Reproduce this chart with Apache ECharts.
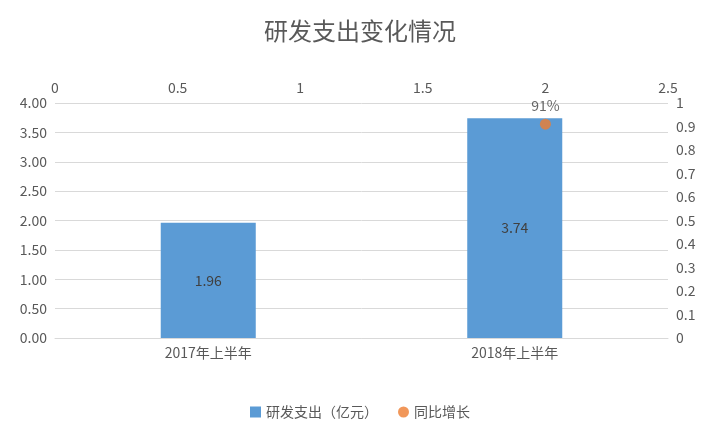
<!DOCTYPE html>
<html>
<head>
<meta charset="utf-8">
<script src="https://cdn.jsdelivr.net/npm/echarts@6/dist/echarts.min.js"></script>
<style>html,body{margin:0;padding:0;background:#fff}#chart{width:720px;height:432px}</style>
</head>
<body>
<div id="chart"></div>
<script>
var categories = ['2017年上半年', '2018年上半年'];
var spending = [1.96, 3.74];
var growthX = [2];
var growthY = [0.91];

var chart = echarts.init(document.getElementById('chart'));
var font = '"Noto Sans CJK SC", sans-serif';
var axisText = { color: '#595959', fontSize: 14, fontFamily: font };

chart.setOption({
    textStyle: { fontFamily: font },
    title: {
        text: '研发支出变化情况',
        left: 'center',
        top: 14,
        textStyle: { color: '#595959', fontSize: 24, fontWeight: 'normal', fontFamily: font }
    },
    legend: {
        bottom: 8,
        itemWidth: 11,
        itemHeight: 11,
        itemGap: 20,
        textStyle: { color: '#595959', fontSize: 14 },
        data: [
            { name: '研发支出（亿元）', icon: 'rect' },
            { name: '同比增长', icon: 'circle' }
        ]
    },
    grid: { left: 55, right: 52, top: 103, bottom: 94 },
    xAxis: [
        {
            type: 'category',
            data: categories,
            position: 'bottom',
            axisLine: { lineStyle: { color: '#d9d9d9' } },
            axisTick: { show: false },
            axisLabel: axisText
        },
        {
            type: 'value',
            position: 'top',
            min: 0, max: 2.5, interval: 0.5,
            axisLine: { show: false },
            axisTick: { show: false },
            splitLine: { show: false },
            axisLabel: axisText
        }
    ],
    yAxis: [
        {
            type: 'value',
            min: 0, max: 4, interval: 0.5,
            axisLine: { show: false },
            axisTick: { show: false },
            splitLine: { lineStyle: { color: '#d9d9d9' } },
            axisLabel: Object.assign({ formatter: function (v) { return v.toFixed(2); } }, axisText)
        },
        {
            type: 'value',
            min: 0, max: 1, interval: 0.1,
            position: 'right',
            axisLine: { show: false },
            axisTick: { show: false },
            splitLine: { show: false },
            axisLabel: Object.assign({ formatter: function (v) { return String(+v.toFixed(1)); } }, axisText)
        }
    ],
    series: [
        {
            name: '研发支出（亿元）',
            type: 'bar',
            xAxisIndex: 0, yAxisIndex: 0,
            barWidth: '31%',
            data: spending,
            itemStyle: { color: '#5b9bd5' },
            label: { show: true, position: 'inside', color: '#404040', fontSize: 14, formatter: function (p) { return p.value.toFixed(2); } }
        },
        {
            name: '同比增长',
            type: 'scatter',
            xAxisIndex: 1, yAxisIndex: 1,
            symbolSize: 11,
            data: growthX.map(function (x, i) { return [x, growthY[i]]; }),
            itemStyle: { color: '#ed7d31' },
            label: { show: true, position: 'top', distance: 6, color: '#404040', fontSize: 14, formatter: function (p) { return Math.round(p.value[1] * 100) + '%'; } }
        }
    ]
});
</script>
</body>
</html>
